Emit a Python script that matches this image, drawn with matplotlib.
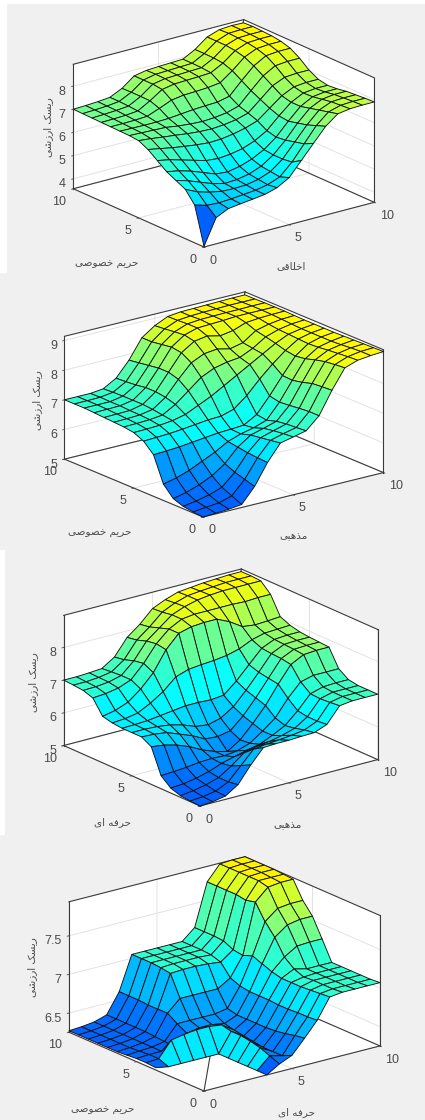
import numpy as np
import matplotlib
matplotlib.use('Agg')
import matplotlib.pyplot as plt
from matplotlib.colors import LinearSegmentedColormap, Normalize
from matplotlib.patches import Rectangle
from mpl_toolkits.mplot3d import proj3d

plt.rcParams['font.family'] = ['Liberation Sans', 'DejaVu Sans']

# axis labels written in visual order with Arabic presentation forms
RISK = '\uFBFD\uFEB7\uFEAF\uFEAD\uFE8D \uFB8F\uFEB4\uFBFE\uFEAD'      # ریسک ارزشی
PRIVACY = '\uFBFD\uFEBB\uFEEE\uFEBC\uFEA7 \uFEE2\uFBFE\uFEAE\uFEA3'   # حریم خصوصی
ETHICAL = '\uFBFD\uFED7\uFE8E\uFEE0\uFEA7\uFE8D'                      # اخلاقی
RELIGIOUS = '\uFBFD\uFE92\uFEEB\uFEAC\uFEE3'                          # مذهبی
PROFESSIONAL = '\uFBFC\uFE8D \uFEEA\uFED3\uFEAE\uFEA3'                # حرفه ای

grid_values = [0, 0.714, 1.429, 2.143, 2.857, 3.571, 4.286, 5, 5.714, 6.429, 7.143, 7.857, 8.571, 9.286, 10]

z1 = [
 [3.60,4.70,4.95,5.02,5.08,5.15,5.30,5.60,6.20,6.80,7.40,7.80,7.88,7.90,7.90],
 [5.20,5.05,5.02,5.05,5.10,5.15,5.25,5.45,5.95,6.60,7.25,7.70,7.85,7.88,7.88],
 [5.70,5.45,5.30,5.20,5.18,5.20,5.30,5.50,5.90,6.50,7.10,7.60,7.82,7.85,7.85],
 [5.90,5.75,5.55,5.35,5.22,5.25,5.35,5.55,5.90,6.40,7.00,7.50,7.75,7.82,7.82],
 [6.10,6.00,5.85,5.65,5.45,5.40,5.50,5.68,5.95,6.35,6.90,7.40,7.68,7.75,7.75],
 [6.40,6.30,6.15,6.00,5.85,5.80,5.85,5.95,6.15,6.45,6.95,7.40,7.66,7.72,7.72],
 [6.70,6.60,6.50,6.42,6.35,6.30,6.32,6.40,6.52,6.70,7.10,7.50,7.75,7.80,7.80],
 [6.90,6.85,6.78,6.72,6.65,6.60,6.58,6.62,6.70,6.85,7.30,7.75,7.98,8.02,8.02],
 [6.94,6.92,6.90,6.88,6.80,6.75,6.72,6.75,6.82,6.98,7.50,8.00,8.30,8.35,8.35],
 [6.95,6.94,6.93,6.93,6.95,7.00,7.05,7.08,7.10,7.22,7.75,8.25,8.55,8.60,8.60],
 [6.96,6.96,6.97,7.00,7.20,7.42,7.50,7.52,7.55,7.62,8.00,8.45,8.68,8.72,8.72],
 [6.97,6.98,7.00,7.05,7.35,7.70,7.80,7.82,7.84,7.87,8.15,8.55,8.75,8.78,8.78],
 [6.98,7.00,7.03,7.08,7.36,7.75,7.85,7.87,7.89,7.91,8.19,8.60,8.78,8.80,8.80],
 [6.99,7.01,7.04,7.10,7.36,7.75,7.86,7.88,7.90,7.92,8.20,8.60,8.80,8.82,8.82],
 [7.00,7.02,7.05,7.10,7.35,7.75,7.85,7.88,7.90,7.92,8.20,8.60,8.78,8.82,8.80],
]

z2 = [
 [5.00,5.02,5.05,5.10,5.60,6.30,6.85,6.95,7.05,7.45,8.20,8.85,9.00,9.05,9.08],
 [5.03,5.08,5.12,5.25,5.70,6.32,6.80,6.92,7.02,7.45,8.18,8.82,8.98,9.05,9.07],
 [5.08,5.15,5.25,5.40,5.80,6.35,6.75,6.88,7.00,7.42,8.15,8.78,8.95,9.03,9.06],
 [5.20,5.30,5.45,5.65,5.95,6.40,6.70,6.82,6.95,7.38,8.05,8.70,8.92,9.00,9.05],
 [5.55,5.65,5.80,6.00,6.20,6.45,6.60,6.70,6.85,7.35,7.98,8.60,8.88,8.98,9.04],
 [6.40,6.42,6.45,6.50,6.55,6.60,6.62,6.65,6.90,7.42,8.00,8.55,8.86,8.98,9.03],
 [6.72,6.74,6.76,6.80,6.85,6.90,6.92,7.05,7.40,7.85,8.25,8.60,8.88,8.98,9.03],
 [6.87,6.88,6.90,6.95,7.05,7.25,7.45,7.70,7.95,8.20,8.45,8.70,8.90,8.98,9.03],
 [6.92,6.93,6.95,7.00,7.25,7.60,7.95,8.15,8.25,8.30,8.50,8.78,8.92,9.00,9.03],
 [6.94,6.95,6.97,7.05,7.35,7.85,8.30,8.50,8.55,8.45,8.55,8.85,8.96,9.02,9.04],
 [6.96,6.97,6.98,7.08,7.40,7.95,8.50,8.78,8.85,8.75,8.82,8.98,9.02,9.04,9.05],
 [6.98,6.99,7.00,7.08,7.40,7.95,8.55,8.85,8.98,9.00,9.02,9.05,9.05,9.05,9.05],
 [7.00,7.00,7.00,7.08,7.35,7.90,8.50,8.82,8.98,9.02,9.03,9.04,9.04,9.05,9.05],
 [7.00,7.00,7.01,7.07,7.32,7.85,8.45,8.78,8.96,9.00,9.02,9.03,9.04,9.04,9.04],
 [7.00,7.00,7.00,7.05,7.30,7.80,8.45,8.75,8.95,9.00,9.01,9.02,9.03,9.04,9.04],
]

z3 = [
 [5.00,5.03,5.10,5.35,5.85,6.28,6.30,6.30,6.32,6.33,6.48,6.95,7.00,7.00,7.00],
 [5.02,5.05,5.12,5.30,5.70,6.10,6.15,6.18,6.22,6.28,6.45,6.92,7.00,7.00,7.00],
 [5.05,5.10,5.18,5.30,5.55,5.85,5.95,6.00,6.08,6.20,6.45,6.90,7.00,7.00,7.00],
 [5.15,5.18,5.25,5.35,5.50,5.60,5.70,5.78,5.95,6.15,6.50,6.92,7.03,7.05,7.05],
 [5.40,5.42,5.45,5.50,5.52,5.50,5.55,5.68,5.95,6.25,6.75,7.15,7.25,7.25,7.25],
 [6.15,6.10,6.00,5.85,5.65,5.50,5.40,5.65,6.05,6.50,7.05,7.55,7.75,7.78,7.78],
 [6.32,6.30,6.25,6.10,5.95,5.75,5.72,5.80,6.15,6.60,7.10,7.60,7.78,7.80,7.80],
 [6.32,6.32,6.30,6.25,6.15,6.00,5.95,6.05,6.30,6.70,7.15,7.62,7.80,7.82,7.82],
 [6.32,6.33,6.35,6.40,6.45,6.50,6.50,6.48,6.52,6.85,7.25,7.65,7.82,7.85,7.85],
 [6.35,6.38,6.45,6.65,6.90,7.25,7.38,7.42,7.45,7.50,7.60,7.78,7.88,7.90,7.92],
 [6.42,6.50,6.65,6.95,7.35,7.95,8.35,8.45,8.48,8.48,8.30,8.05,8.00,8.02,8.05],
 [6.85,6.88,6.95,7.10,7.50,8.00,8.35,8.55,8.60,8.60,8.60,8.60,8.58,8.60,8.60],
 [6.95,6.96,7.00,7.10,7.45,7.95,8.25,8.55,8.70,8.80,8.85,8.88,8.88,8.88,8.88],
 [6.98,6.98,7.01,7.08,7.35,7.85,8.15,8.50,8.68,8.80,8.84,8.87,8.90,8.90,8.90],
 [7.00,7.00,7.02,7.05,7.30,7.80,8.10,8.48,8.65,8.78,8.82,8.86,8.88,8.90,8.90],
]

z4 = [
 [6.25,6.25,6.25,6.25,6.25,6.25,6.35,6.42,6.60,6.79,7.05,7.07,7.07,7.07,7.07],
 [6.25,6.25,6.25,6.25,6.25,6.25,6.40,6.36,6.58,6.78,7.04,7.06,7.06,7.06,7.06],
 [6.25,6.25,6.25,6.25,6.25,6.25,6.45,6.36,6.55,6.78,7.03,7.06,7.06,7.06,7.06],
 [6.25,6.25,6.25,6.25,6.25,6.25,6.48,6.36,6.53,6.77,7.02,7.06,7.06,7.06,7.06],
 [6.25,6.25,6.25,6.25,6.25,6.25,6.50,6.38,6.52,6.77,7.02,7.05,7.06,7.06,7.06],
 [6.28,6.25,6.25,6.25,6.25,6.25,6.50,6.40,6.52,6.78,7.02,7.10,7.06,7.06,7.06],
 [6.29,6.30,6.50,6.53,6.55,6.55,6.53,6.42,6.52,6.78,7.05,7.20,7.30,7.31,7.31],
 [6.29,6.30,6.30,6.32,6.45,6.48,6.48,6.45,6.52,6.78,7.10,7.40,7.52,7.55,7.55],
 [6.28,6.29,6.30,6.33,6.52,6.52,6.52,6.52,6.55,6.80,7.15,7.55,7.68,7.70,7.70],
 [6.27,6.28,6.30,6.34,6.60,6.75,6.75,6.75,6.75,6.85,7.10,7.75,7.90,7.92,7.92],
 [6.27,6.28,6.30,6.35,6.60,7.02,7.03,7.03,7.02,7.00,7.12,7.72,7.93,7.93,7.93],
 [6.27,6.28,6.30,6.35,6.60,7.04,7.05,7.05,7.05,7.04,7.18,7.74,7.93,7.94,7.94],
 [6.27,6.28,6.30,6.35,6.61,7.05,7.05,7.05,7.05,7.05,7.19,7.74,7.93,7.94,7.94],
 [6.27,6.28,6.30,6.35,6.61,7.05,7.05,7.05,7.05,7.05,7.19,7.74,7.93,7.94,7.94],
 [6.27,6.28,6.30,6.35,6.61,7.05,7.05,7.05,7.05,7.05,7.19,7.74,7.93,7.94,7.94],
]

xy_ticks = [0, 5, 10]
z_ticks = [[4, 5, 6, 7, 8], [5, 6, 7, 8, 9], [5, 6, 7, 8], [6.5, 7, 7.5]]
z_tick_labels = [['4', '5', '6', '7', '8'], ['5', '6', '7', '8', '9'], ['5', '6', '7', '8'], ['6.5', '7', '7.5']]
z_limits = [(3.57, 8.94), (5.0, 9.14), (5.0, 8.98), (6.25, 7.94)]
surfaces = [z1, z2, z3, z4]

panels = [
 dict(elev=20.0, lz=.617, near=(204, 247), left=(74, 190), right=(375, 202),
      xl=(ETHICAL, 291, 266), yl=(PRIVACY, 107, 264), zl=(48, 127)),
 dict(elev=18.7, lz=.570, near=(203, 517), left=(63, 461), right=(382, 473),
      xl=(RELIGIOUS, 293, 536), yl=(PRIVACY, 100, 533), zl=(37, 400)),
 dict(elev=19.9, lz=.618, near=(200, 806), left=(62, 746), right=(376, 760),
      xl=(RELIGIOUS, 287, 825), yl=(PROFESSIONAL, 113, 822), zl=(33, 682)),
 dict(elev=19.5, lz=.624, near=(204, 1091), left=(68, 1031), right=(379, 1046),
      xl=(PROFESSIONAL, 297, 1112), yl=(PRIVACY, 103, 1110), zl=(32, 967)),
]
# grey screenshot backgrounds: x0, y0, x1, y1 in pixels
backgrounds = [(7, 4, 425, 273), (0, 273, 425, 550), (5, 550, 425, 835), (0, 835, 425, 1120)]

W, H = 425, 1120
fig = plt.figure(figsize=(W / 100, H / 100), dpi=100, facecolor='white')

cmap = LinearSegmentedColormap.from_list('surf', [
    (0.0, (0, .38, 1)), (.369, (0, 1, 1)), (.964, (1, 1, 0)), (1.0, (1, .95, 0))], N=64)
TXT = '#4a4a4a'
BOX = '#3a3a3a'
X, Y = np.meshgrid(grid_values, grid_values)


def screen(ax, x, y, z):
    xs, ys, _ = proj3d.proj_transform(x, y, z, ax.get_proj())
    return ax.transData.transform((xs, ys))


def place(ax, p, z0):
    for _ in range(4):
        ax.apply_aspect()
        l = screen(ax, 10, 0, z0)
        r = screen(ax, 0, 10, z0)
        scale = (p['right'][0] - p['left'][0]) / (l[0] - r[0])
        b = ax.get_position(original=True)
        w = b.width * scale
        h = b.height * scale
        ax.set_position([b.x0 + (b.width - w) / 2, b.y0 + (b.height - h) / 2, w, h])
        ax.apply_aspect()
        n = screen(ax, 0, 0, z0)
        dx = (p['near'][0] - n[0]) / W
        dy = ((H - p['near'][1]) - n[1]) / H
        b = ax.get_position(original=True)
        ax.set_position([b.x0 + dx, b.y0 + dy, b.width, b.height])


for bg in backgrounds:
    x0, y0, x1, y1 = bg
    fig.add_artist(Rectangle((x0 / W, 1 - y1 / H), (x1 - x0) / W, (y1 - y0) / H,
                             transform=fig.transFigure, facecolor='#f0f0f0', edgecolor='none', zorder=-5))

for k, p in enumerate(panels):
    cy = p['near'][1] - 90
    ax = fig.add_axes([.2, 1 - cy / H - .1, .6, .6 * W / H * 2], projection='3d',
                      proj_type='ortho', computed_zorder=False)
    ax.patch.set_alpha(0)
    ax.view_init(elev=p['elev'], azim=-127.5)
    ax.set_box_aspect((1, 1, p['lz']))
    zlo, zhi = z_limits[k]
    ax.set_xlim(0, 10)
    ax.set_ylim(0, 10)
    ax.set_zlim(zlo, zhi)
    ax.set_xticks(xy_ticks)
    ax.set_yticks(xy_ticks)
    ax.set_zticks(z_ticks[k])
    ax.set_zticklabels(z_tick_labels[k])
    ax.zaxis.set_ticks_position('upper')
    ax.tick_params(labelsize=9, colors=TXT, pad=-3)
    ax.zaxis.set_tick_params(pad=-5)
    for t in ax.get_xticklabels():
        t.set_ha('left')
    for t in ax.get_yticklabels():
        t.set_ha('right')
    for t in ax.get_zticklabels():
        t.set_ha('right')
    for axis in (ax.xaxis, ax.yaxis, ax.zaxis):
        axis.set_pane_color((1, 1, 1, 1))
        axis.pane.set_edgecolor('none')
        axis.line.set_color(BOX)
        axis.line.set_linewidth(.8)
        axis._axinfo['grid'].update(color='#e2e2e2', linewidth=.7)
        axis._axinfo['tick'].update(inward_factor=.12, outward_factor=0, linewidth={True: .6, False: .4}, color=BOX)

    for line in ([(0, 10), (0, 10), (zlo, zhi)], [(10, 10), (0, 0), (zlo, zhi)],
                 [(0, 10), (10, 10), (zhi, zhi)], [(10, 10), (0, 10), (zhi, zhi)],
                 [(0, 10), (10, 10), (zlo, zlo)], [(10, 10), (0, 10), (zlo, zlo)]):
        ax.plot(*line, color=BOX, lw=.8, zorder=2)

    Z = np.array(surfaces[k], dtype=float)
    fc = cmap(Normalize(zlo, zhi)(Z))
    ec = np.tile(np.array([.07, .07, .07, 1.0]), (14 * 14, 1))
    if k == 3:
        # the near corner lies under the floor; only its rim is seen
        wall = cmap(Normalize(zlo, zhi)(6.8))
        fc[5, 1:6] = wall
        fc[1:5, 5] = wall
        fc[0:5, 0:5] = (1, 1, 1, 0)
        for j in range(5):
            for i in range(5):
                ec[j * 14 + i] = (0, 0, 0, 0)
    surf = ax.plot_surface(X, Y, Z, rstride=1, cstride=1, facecolors=fc, shade=False,
                           linewidth=.65, edgecolor='#121212', antialiased=True, zorder=5)
    surf.set_edgecolor(ec)

    place(ax, p, zlo)

    for text, px, py in (p['xl'], p['yl']):
        fig.text(px / W, 1 - py / H, text, ha='center', va='center', fontsize=7.5, color=TXT,
                 family=['DejaVu Sans'])
    fig.text(p['zl'][0] / W, 1 - p['zl'][1] / H, RISK, ha='center', va='center', rotation=90,
             fontsize=7.5, color=TXT, family=['DejaVu Sans'])

fig.savefig('out.png', dpi=100, facecolor='white')
